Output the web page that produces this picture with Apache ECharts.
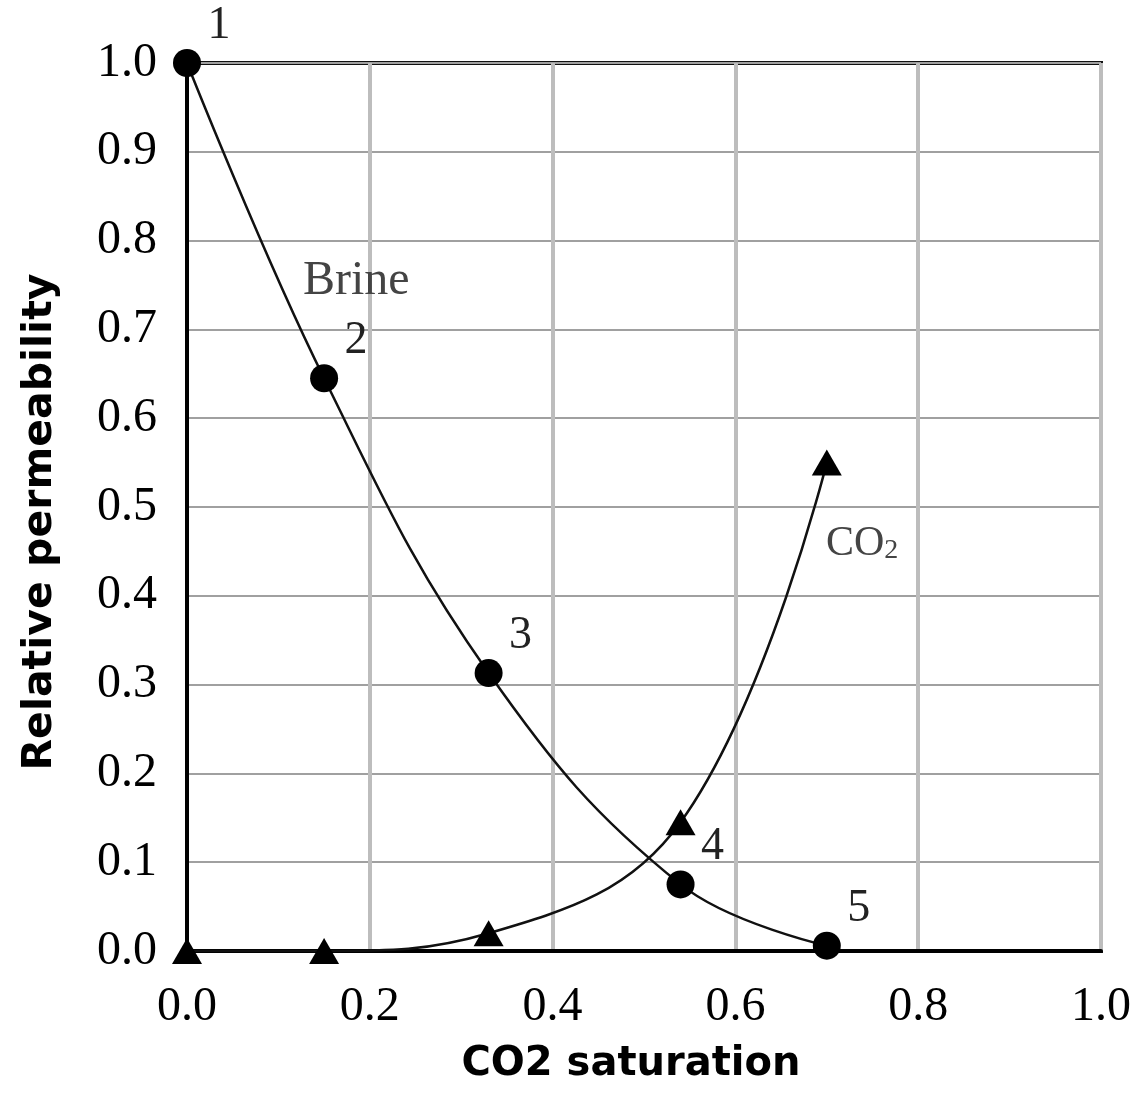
<!DOCTYPE html>
<html>
<head>
<meta charset="utf-8">
<script src="https://cdn.jsdelivr.net/npm/echarts@6/dist/echarts.min.js"></script>
<style>
html,body{margin:0;padding:0;background:#fff;}
#chart{width:1146px;height:1102px;}
</style>
</head>
<body>
<div id="chart"></div>
<script>
// ---- data ----
var saturation = [0.0, 0.15, 0.33, 0.54, 0.70];
var brineKr = [1.0, 0.645, 0.313, 0.075, 0.006];
var co2Kr = [0.0, 0.0, 0.02, 0.145, 0.55];
var pointLabels = ['1', '2', '3', '4', '5'];
var xTicks = ['0.0', '0.2', '0.4', '0.6', '0.8', '1.0'];
var yTicks = ['0.0', '0.1', '0.2', '0.3', '0.4', '0.5', '0.6', '0.7', '0.8', '0.9', '1.0'];

function pairs(xs, ys) { return xs.map(function (x, i) { return [x, ys[i]]; }); }

var chart = echarts.init(document.getElementById('chart'), null, {renderer: 'canvas'});
var serif = '"Liberation Serif", "DejaVu Serif", serif';
var sans = '"DejaVu Sans", "Noto Sans", sans-serif';

var option = {
  backgroundColor: '#fff',
  animation: false,
  grid: {left: 187, right: 45, top: 63, bottom: 151, show: true, borderColor: '#111', borderWidth: 4, backgroundColor: 'transparent'},
  xAxis: {
    type: 'value', min: 0, max: 1, interval: 0.2,
    name: 'CO2 saturation', nameLocation: 'middle', nameGap: 94,
    nameTextStyle: {fontFamily: sans, fontWeight: 'bold', fontSize: 40, color: '#000', padding: [0, 26, 0, 0]},
    axisLine: {show: true, lineStyle: {color: '#000', width: 4}},
    axisTick: {show: false},
    axisLabel: {margin: 32, fontFamily: serif, fontSize: 48, color: '#000',
      formatter: function (v) { return xTicks[Math.round(v / 0.2)]; }},
    splitLine: {show: true, lineStyle: {color: '#bdbdbd', width: 4}}
  },
  yAxis: {
    type: 'value', min: 0, max: 1, interval: 0.1,
    name: 'Relative permeability', nameLocation: 'middle', nameGap: 126, nameRotate: 90,
    nameTextStyle: {fontFamily: sans, fontWeight: 'bold', fontSize: 41, color: '#000', padding: [0, 30, 0, 0]},
    axisLine: {show: true, lineStyle: {color: '#000', width: 4}},
    axisTick: {show: false},
    axisLabel: {margin: 30, fontFamily: serif, fontSize: 48, color: '#000',
      formatter: function (v) { return yTicks[Math.round(v / 0.1)]; }},
    splitLine: {show: true, lineStyle: {color: '#a0a0a0', width: 2}}
  },
  series: [
    {
      name: 'Brine', type: 'line', data: pairs(saturation, brineKr),
      smooth: 0.4,
      lineStyle: {color: '#111', width: 2.5},
      symbol: 'circle', symbolSize: 28,
      itemStyle: {color: '#000'},
      label: {show: true, position: 'inside', offset: [32, -37],
        fontFamily: serif, fontSize: 46, color: '#222',
        formatter: function (p) { return pointLabels[p.dataIndex]; }},
      z: 3
    },
    {
      name: 'CO2', type: 'line', data: pairs(saturation, co2Kr),
      smooth: 0.4,
      lineStyle: {color: '#111', width: 2.5},
      symbol: 'triangle', symbolSize: [30, 26],
      itemStyle: {color: '#000'},
      z: 3
    }
  ],
  graphic: [
    {type: 'text', left: 303, top: 257, z: 10,
      style: {text: 'Brine', font: '48px ' + serif, fill: '#444'}},
    {type: 'text', left: 826, top: 523, z: 10,
      style: {text: '{a|CO}{b|2}', font: '42px ' + serif, fill: '#444',
        rich: {a: {fontFamily: serif, fontSize: 42, fill: '#444', color: '#444'},
               b: {fontFamily: serif, fontSize: 28, fill: '#444', color: '#444', padding: [14, 0, 0, 0]}}}}
  ]
};
chart.setOption(option);
</script>
</body>
</html>
